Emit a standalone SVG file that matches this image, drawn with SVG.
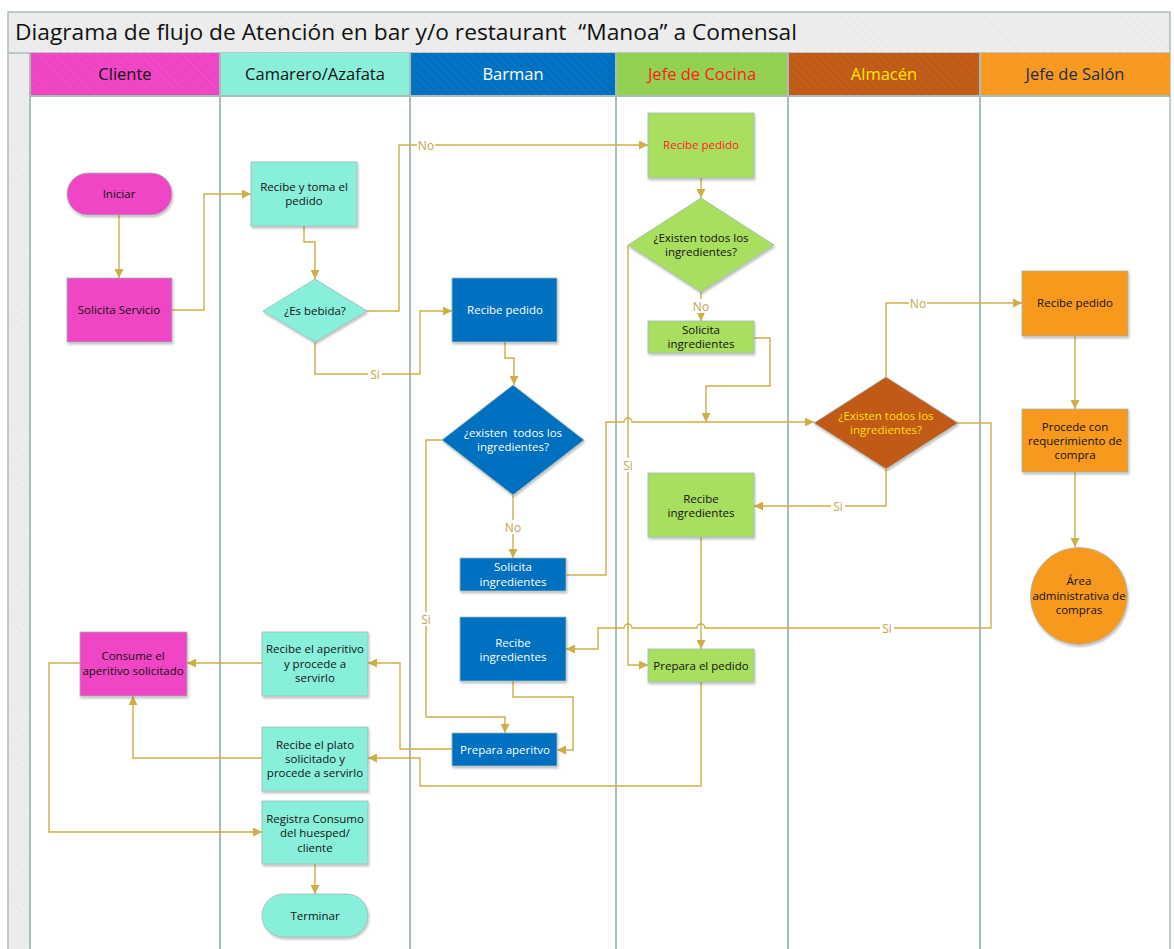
<svg xmlns="http://www.w3.org/2000/svg" width="1174" height="949" viewBox="0 0 1174 949">
  <style>
    .lane { stroke: #A9BDB8; stroke-width: 2; fill: none; }
    .hdr text { font-family: "Open Sans", "Noto Sans", sans-serif; font-size: 16.5px; text-anchor: middle; }
    .node text { font-family: "Open Sans", "Noto Sans", sans-serif; font-size: 11.5px; text-anchor: middle; fill: #111; }
    .node .w { fill: #fff; }
    .shape { stroke: #9FB9B3; stroke-width: 0.8; filter: url(#shadow); }
    .mag { fill: #F044C4; }
    .aqua { fill: #88F0DA; }
    .blue { fill: #0070C0; }
    .green { fill: #A9DF5F; }
    .brown { fill: #C05A16; }
    .orange { fill: #F7991E; }
    .conn path { fill: none; stroke: #CFAE45; stroke-width: 1.4; }
    .arr { marker-end: url(#arrow); }
    .lbl rect { fill: #fff; }
    .lbl text { font-family: "Open Sans", "Noto Sans", sans-serif; font-size: 12px; fill: #C4A44A; text-anchor: middle; }
  </style>
  <defs>
    <marker id="arrow" viewBox="0 0 10 10" refX="10" refY="5" markerWidth="9" markerHeight="9" markerUnits="userSpaceOnUse" orient="auto">
      <path d="M0,0 L10,5 L0,10 z" fill="#CFAE45"/>
    </marker>
    <filter id="shadow" x="-10%" y="-10%" width="130%" height="130%">
      <feDropShadow dx="1" dy="2" stdDeviation="1.2" flood-color="#000" flood-opacity="0.25"/>
    </filter>
    <pattern id="hatch" width="6" height="6" patternUnits="userSpaceOnUse" patternTransform="rotate(-45)">
      <line x1="0" y1="0" x2="0" y2="6" stroke="#fff" stroke-opacity="0.1" stroke-width="1"/>
    </pattern>
    <pattern id="hatchGray" width="6" height="6" patternUnits="userSpaceOnUse" patternTransform="rotate(-45)">
      <line x1="0" y1="0" x2="0" y2="6" stroke="#d6d6d6" stroke-opacity="0.5" stroke-width="1"/>
    </pattern>
  </defs>

  <rect width="1174" height="949" fill="#fff"/>

  <!-- frame, title band and left strip -->
  <g id="frame">
    <rect x="8" y="12" width="1162" height="41" fill="#EDEDED"/>
    <rect x="8" y="12" width="1162" height="41" fill="url(#hatchGray)"/>
    <rect x="8" y="53" width="22" height="900" fill="#EDEDED"/>
    <rect x="8" y="53" width="22" height="900" fill="url(#hatchGray)"/>
    <path d="M8,960 V12 H1170 V960" fill="none" stroke="#A9BDB8" stroke-width="1.5"/>
    <line x1="8" y1="53" x2="1170" y2="53" stroke="#A9BDB8" stroke-width="1.5"/>
    <text x="15" y="40" font-family="Open Sans, Noto Sans, sans-serif" font-size="22.5" fill="#111" xml:space="preserve" textLength="782" lengthAdjust="spacingAndGlyphs">Diagrama de flujo de Atención en bar y/o restaurant  “Manoa” a Comensal</text>
  </g>

  <!-- swimlane headers -->
  <g id="lanes" class="hdr">
    <rect x="30" y="53" width="190" height="43" fill="#F044C4"/>
    <rect x="220" y="53" width="190" height="43" fill="#88F0DA"/>
    <rect x="410" y="53" width="206" height="43" fill="#0070C0"/>
    <rect x="616" y="53" width="172" height="43" fill="#92D050"/>
    <rect x="788" y="53" width="192" height="43" fill="#C05A16"/>
    <rect x="980" y="53" width="190" height="43" fill="#F7991E"/>
    <rect x="30" y="53" width="1140" height="43" fill="url(#hatch)"/>
    <text x="125" y="80" fill="#111">Cliente</text>
    <text x="315" y="80" fill="#111">Camarero/Azafata</text>
    <text x="513" y="80" fill="#fff">Barman</text>
    <text x="702" y="80" fill="#FF1A1A">Jefe de Cocina</text>
    <text x="884" y="80" fill="#FFE600">Almacén</text>
    <text x="1075" y="80" fill="#1F2D4D">Jefe de Salón</text>
    <line x1="30" y1="96" x2="1170" y2="96" class="lane"/>
    <path class="lane" d="M30,53 V960 M220,53 V960 M410,53 V960 M616,53 V960 M788,53 V960 M980,53 V960"/>
  </g>

  <!-- connectors -->
  <g id="connectors" class="conn">
    <path class="arr" d="M119,215 V278"/>
    <path class="arr" d="M172,310 H204 V194 H251"/>
    <path class="arr" d="M304,226 V242 H315 V279"/>
    <path class="arr" d="M367,311 H399 V145 H648"/>
    <path class="arr" d="M315,342 V374 H420 V311 H452"/>
    <path class="arr" d="M505,342 V358 H514 V385"/>
    <path class="arr" d="M513,495 V558"/>
    <path class="arr" d="M442,440 H426 V717 H505 V733"/>
    <path class="arr" d="M566,575 H606 V422 H624 a4,4 0 0 1 8,0 H814"/>
    <path class="arr" d="M754,338 H770 V386 H706 V422"/>
    <path class="arr" d="M701,178 V198"/>
    <path class="arr" d="M701,292 V321"/>
    <path class="arr" d="M628,245 V665 H648"/>
    <path class="arr" d="M701,537 V649"/>
    <path class="arr" d="M701,682 V786 H420 V758 H368"/>
    <path class="arr" d="M886,377 V303 H1022"/>
    <path class="arr" d="M1075,336 V409"/>
    <path class="arr" d="M1075,472 V547"/>
    <path class="arr" d="M886,469 V506 H754"/>
    <path class="arr" d="M958,423 H991 V628 H705 a4,4 0 0 0 -8,0 H632 a4,4 0 0 0 -8,0 H598 V649 H566"/>
    <path class="arr" d="M513,681 V697 H573 V750 H557"/>
    <path class="arr" d="M452,749 H400 V663 H368"/>
    <path class="arr" d="M262,663 H187"/>
    <path class="arr" d="M262,758 H133 V696"/>
    <path class="arr" d="M80,663 H49 V832 H262"/>
    <path class="arr" d="M315,864 V894"/>
    <!-- branch labels -->
    <g class="lbl">
      <rect x="417" y="138" width="18" height="14"/><text x="426" y="149.5">No</text>
      <rect x="368" y="367" width="14" height="14"/><text x="375" y="378.5">Si</text>
      <rect x="504" y="520" width="18" height="14"/><text x="513" y="531.5">No</text>
      <rect x="419" y="612" width="14" height="14"/><text x="426" y="623.5">Si</text>
      <rect x="692" y="299" width="18" height="14"/><text x="701" y="310.5">No</text>
      <rect x="621" y="458" width="14" height="14"/><text x="628" y="469.5">Si</text>
      <rect x="909" y="296" width="18" height="14"/><text x="918" y="307.5">No</text>
      <rect x="831" y="499" width="14" height="14"/><text x="838" y="510.5">Si</text>
      <rect x="880" y="621" width="14" height="14"/><text x="887" y="632.5">Si</text>
    </g>
  </g>

  <!-- Cliente -->
  <g id="iniciar" class="node">
    <rect class="shape mag" x="67" y="173" width="105" height="42" rx="21"/>
    <text x="119" y="198">Iniciar</text>
  </g>
  <g id="solicita-servicio" class="node">
    <rect class="shape mag" x="67" y="278" width="105" height="64"/>
    <text x="119" y="314">Solicita Servicio</text>
  </g>
  <g id="consume-aperitivo" class="node">
    <rect class="shape mag" x="80" y="632" width="107" height="64"/>
    <text x="133" y="660">Consume el</text>
    <text x="133" y="675">aperitivo solicitado</text>
  </g>

  <!-- Camarero/Azafata -->
  <g id="recibe-toma-pedido" class="node">
    <rect class="shape aqua" x="251" y="162" width="106" height="64"/>
    <text x="304" y="191">Recibe y toma el</text>
    <text x="304" y="205">pedido</text>
  </g>
  <g id="es-bebida" class="node">
    <polygon class="shape aqua" points="315,279 367,311 315,342 263,311"/>
    <text x="315" y="315">¿Es bebida?</text>
  </g>
  <g id="recibe-aperitivo" class="node">
    <rect class="shape aqua" x="262" y="632" width="106" height="64"/>
    <text x="315" y="653">Recibe el aperitivo</text>
    <text x="315" y="668">y procede a</text>
    <text x="315" y="682">servirlo</text>
  </g>
  <g id="recibe-plato" class="node">
    <rect class="shape aqua" x="262" y="727" width="106" height="64"/>
    <text x="315" y="749">Recibe el plato</text>
    <text x="315" y="763">solicitado y</text>
    <text x="315" y="777">procede a servirlo</text>
  </g>
  <g id="registra-consumo" class="node">
    <rect class="shape aqua" x="262" y="801" width="106" height="63"/>
    <text x="315" y="823">Registra Consumo</text>
    <text x="315" y="837">del huesped/</text>
    <text x="315" y="852">cliente</text>
  </g>
  <g id="terminar" class="node">
    <rect class="shape aqua" x="262" y="894" width="106" height="43" rx="21.5"/>
    <text x="315" y="920">Terminar</text>
  </g>

  <!-- Barman -->
  <g id="barman-recibe-pedido" class="node">
    <rect class="shape blue" x="452" y="278" width="105" height="64"/>
    <text class="w" x="505" y="314">Recibe pedido</text>
  </g>
  <g id="barman-existen" class="node">
    <polygon class="shape blue" points="513,385 584,440 513,495 442,440"/>
    <text class="w" x="513" y="437" xml:space="preserve">¿existen  todos los</text>
    <text class="w" x="513" y="451">ingredientes?</text>
  </g>
  <g id="barman-solicita" class="node">
    <rect class="shape blue" x="460" y="558" width="106" height="33"/>
    <text class="w" x="513" y="571">Solicita</text>
    <text class="w" x="513" y="586">ingredientes</text>
  </g>
  <g id="barman-recibe-ingredientes" class="node">
    <rect class="shape blue" x="460" y="617" width="106" height="64"/>
    <text class="w" x="513" y="647">Recibe</text>
    <text class="w" x="513" y="661">ingredientes</text>
  </g>
  <g id="prepara-aperitivo" class="node">
    <rect class="shape blue" x="452" y="733" width="105" height="33"/>
    <text class="w" x="505" y="754">Prepara aperitvo</text>
  </g>

  <!-- Jefe de Cocina -->
  <g id="cocina-recibe-pedido" class="node">
    <rect class="shape green" x="648" y="113" width="106" height="65"/>
    <text x="701" y="149" style="fill:#FF1A1A">Recibe pedido</text>
  </g>
  <g id="cocina-existen" class="node">
    <polygon class="shape green" points="701,198 774,245 701,292 628,245"/>
    <text x="701" y="242">¿Existen todos los</text>
    <text x="701" y="256">ingredientes?</text>
  </g>
  <g id="cocina-solicita" class="node">
    <rect class="shape green" x="648" y="321" width="106" height="32"/>
    <text x="701" y="334">Solicita</text>
    <text x="701" y="348">ingredientes</text>
  </g>
  <g id="cocina-recibe-ingredientes" class="node">
    <rect class="shape green" x="648" y="473" width="106" height="64"/>
    <text x="701" y="503">Recibe</text>
    <text x="701" y="517">ingredientes</text>
  </g>
  <g id="prepara-pedido" class="node">
    <rect class="shape green" x="648" y="649" width="106" height="33"/>
    <text x="701" y="670">Prepara el pedido</text>
  </g>

  <!-- Almacén -->
  <g id="almacen-existen" class="node">
    <polygon class="shape brown" points="886,377 958,423 886,469 814,423"/>
    <text x="886" y="420" style="fill:#FFE100">¿Existen todos los</text>
    <text x="886" y="434" style="fill:#FFE100">ingredientes?</text>
  </g>

  <!-- Jefe de Salón -->
  <g id="salon-recibe-pedido" class="node">
    <rect class="shape orange" x="1022" y="271" width="106" height="65"/>
    <text x="1075" y="307">Recibe pedido</text>
  </g>
  <g id="procede-compra" class="node">
    <rect class="shape orange" x="1022" y="409" width="106" height="63"/>
    <text x="1075" y="431">Procede con</text>
    <text x="1075" y="445">requerimiento de</text>
    <text x="1075" y="459">compra</text>
  </g>
  <g id="area-compras" class="node">
    <circle class="shape orange" cx="1079" cy="596" r="48.5"/>
    <text x="1079" y="585">Área</text>
    <text x="1079" y="600">administrativa de</text>
    <text x="1079" y="614">compras</text>
  </g>
</svg>
